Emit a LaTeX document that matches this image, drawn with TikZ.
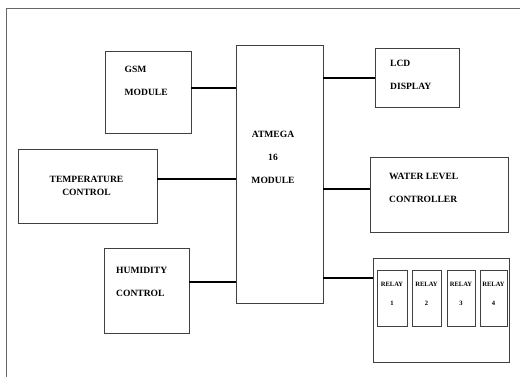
\documentclass[tikz,border=0pt]{standalone}
\usepackage{fontspec}
\setmainfont{Liberation Serif}
\tikzset{
    % boxes of the block diagram
    blk/.style={draw=black!75, line width=0.8bp, inner sep=0pt},
    % the bold captions written in the boxes
    lbl/.style={font=\bfseries\fontsize{9.6}{23}\selectfont, inner sep=0pt},
    % the small relay captions
    rlbl/.style={font=\bfseries\fontsize{6.6}{19}\selectfont, align=center, inner sep=0pt},
    % thick wires to the controller
    wire/.style={line width=1.7bp, black}
}
\begin{document}
\begin{tikzpicture}[x=1bp,y=-1bp]
    \useasboundingbox (0,0) rectangle (520,377);

    % --- page frame (top and left edges only) ---
    \draw[black!60, line width=0.7bp] (520,8) -- (6,8) -- (6,377);

    % --- the blocks ---
    \node[blk, minimum width=87bp, minimum height=258bp] (mcu) at (279.5,174) {};
    \node[blk, minimum width=86bp, minimum height=82bp]  (gsm) at (148,92) {};
    \node[blk, minimum width=139bp, minimum height=74bp] (temp) at (87.5,186) {};
    \node[blk, minimum width=85bp, minimum height=85bp]  (hum) at (146.5,290.5) {};
    \node[blk, minimum width=84bp, minimum height=59bp]  (lcd) at (417,77.5) {};
    \node[blk, minimum width=138bp, minimum height=75bp] (water) at (439,194.5) {};
    \node[blk, minimum width=136bp, minimum height=104bp] (relays) at (441,310) {};

    % --- captions ---
    \node[lbl, align=center] (mcutxt) at (273,157) {ATMEGA\\16\\MODULE};
    \node[lbl, align=left, anchor=west] (gsmtxt) at (124.5,80.5) {GSM\\MODULE};
    \node[lbl, align=center, font=\bfseries\fontsize{9.6}{13}\selectfont] (temptxt) at (86.5,186) {TEMPERATURE\\CONTROL};
    \node[lbl, align=left, anchor=west] (humtxt) at (116,282) {HUMIDITY\\CONTROL};
    \node[lbl, align=left, anchor=west] (lcdtxt) at (390,74.5) {LCD\\DISPLAY};
    \node[lbl, align=left, anchor=west] (watertxt) at (389,187.5) {WATER LEVEL\\CONTROLLER};

    % --- the four relays ---
    \foreach \i/\x/\w in {1/392/30,2/426.5/29,3/461/28,4/493.5/27}{
        \node[blk, minimum width=\w bp, minimum height=56bp] (relay\i) at (\x,298) {};
        \node[rlbl] (relay\i txt) at (\x,293.5) {RELAY\\\i};
    }

    % --- wires ---
    \draw[wire] (gsm.east |- 0,88) -- (mcu.west |- 0,88);
    \draw[wire] (temp.east |- 0,179) -- (mcu.west |- 0,179);
    \draw[wire] (hum.east |- 0,282) -- (mcu.west |- 0,282);
    \draw[wire] (mcu.east |- 0,78) -- (lcd.west |- 0,78);
    \draw[wire] (mcu.east |- 0,189) -- (water.west |- 0,189);
    \draw[wire] (mcu.east |- 0,278) -- (relays.west |- 0,278);

\end{tikzpicture}
\end{document}
